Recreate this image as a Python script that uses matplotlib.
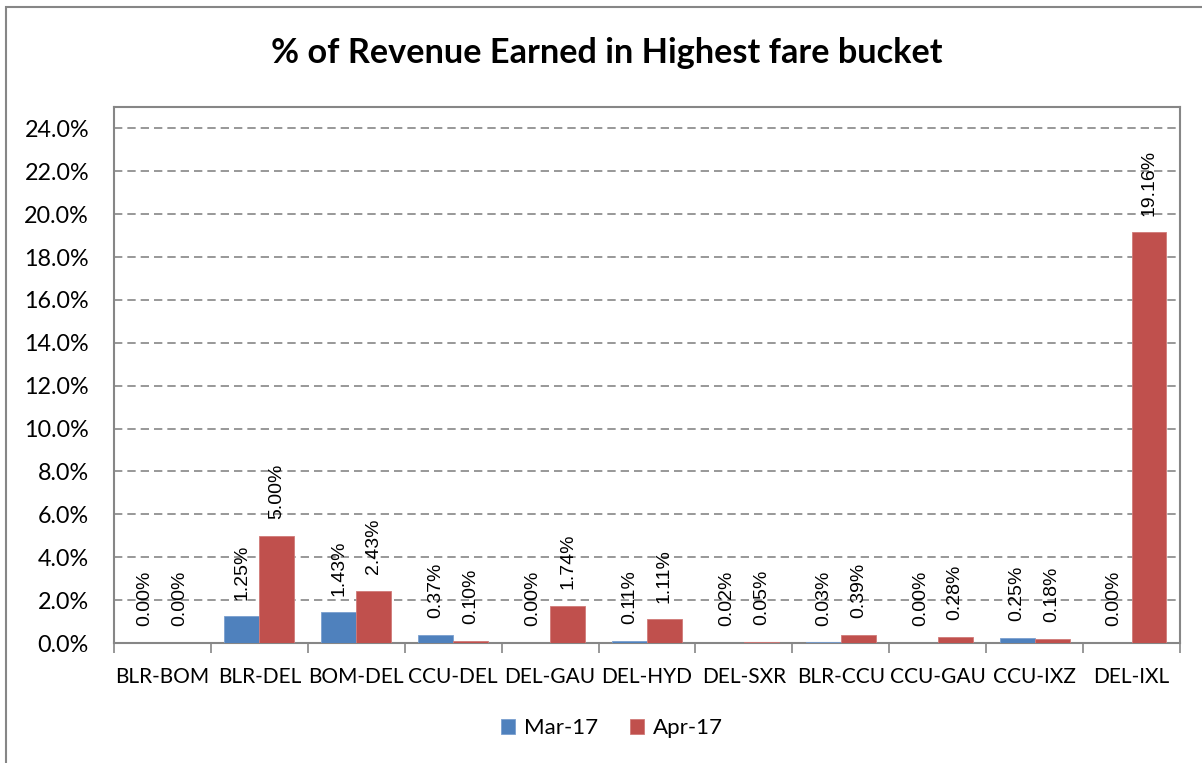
import matplotlib
matplotlib.use("Agg")
import matplotlib.pyplot as plt
from matplotlib.patches import Rectangle
import numpy as np

categories = ["BLR-BOM", "BLR-DEL", "BOM-DEL", "CCU-DEL", "DEL-GAU", "DEL-HYD",
              "DEL-SXR", "BLR-CCU", "CCU-GAU", "CCU-IXZ", "DEL-IXL"]
mar17 = [0.00, 1.25, 1.43, 0.37, 0.00, 0.11, 0.02, 0.03, 0.00, 0.25, 0.00]
apr17 = [0.00, 5.00, 2.43, 0.10, 1.74, 1.11, 0.05, 0.39, 0.28, 0.18, 19.16]
series_names = ["Mar-17", "Apr-17"]
yticks = [0, 2, 4, 6, 8, 10, 12, 14, 16, 18, 20, 22, 24]

W, H = 1202, 763
fig = plt.figure(figsize=(W / 100, H / 100), dpi=100)
ax = fig.add_axes([114 / W, 1 - 643 / H, (1180 - 114) / W, (643 - 107) / H])

FONT = "Lato"
blue = "#4F81BD"
red = "#C0504D"
bw = 0.36
x = np.arange(len(categories))
b1 = ax.bar(x - bw / 2, mar17, bw, color=blue, edgecolor="#7A9FCF", linewidth=0.6, label=series_names[0], zorder=3)
b2 = ax.bar(x + bw / 2, apr17, bw, color=red, edgecolor="#D07A78", linewidth=0.6, label=series_names[1], zorder=3)

for bars, vals in ((b1, mar17), (b2, apr17)):
    for rect, v in zip(bars, vals):
        ax.annotate(f"{v:.2f}%", (rect.get_x() + rect.get_width() / 2, v),
                    xytext=(0, 12), textcoords="offset points",
                    rotation=90, ha="center", va="bottom",
                    fontsize=14, family="Liberation Sans", color="black", zorder=4)

ax.set_xlim(-0.5, len(categories) - 0.5)
ax.set_ylim(0, 25)
ax.set_yticks(yticks)
ax.set_yticklabels([f"{t:.1f}%" for t in yticks], family=FONT, fontsize=16.8)
ax.set_xticks(np.arange(len(categories) + 1) - 0.5, minor=False)
ax.set_xticklabels([])
ax.set_xticks(x, minor=True)
ax.set_xticklabels(categories, minor=True, family=FONT, fontsize=15)
ax.tick_params(axis="x", which="major", length=7, color="#868686", width=1.2, direction="out")
ax.tick_params(axis="x", which="minor", length=0, pad=17)
ax.tick_params(axis="y", length=0, pad=18)
ax.yaxis.grid(True, linestyle=(0, (5, 3)), color="#868686", linewidth=1.2, zorder=0)
for s in ax.spines.values():
    s.set_color("#868686")
    s.set_linewidth(1.5)

fig.text(607 / W, 1 - 53 / H, "% of Revenue Earned in Highest fare bucket",
         ha="center", va="center", fontsize=24.7, fontweight="bold", family=FONT)

leg = fig.legend(handles=[b1, b2], labels=series_names, loc="center",
                 bbox_to_anchor=(612 / W, 1 - 728 / H), ncol=2, frameon=False,
                 prop={"family": FONT, "size": 16}, handlelength=0.65, handleheight=0.65,
                 handletextpad=0.4, columnspacing=1.4)

fig.add_artist(Rectangle((6 / W, -0.1), 1.2, (1 - 7 / H) + 0.1, transform=fig.transFigure,
                         fill=False, edgecolor="#868686", linewidth=1.5))

fig.savefig("out.png", dpi=100)
